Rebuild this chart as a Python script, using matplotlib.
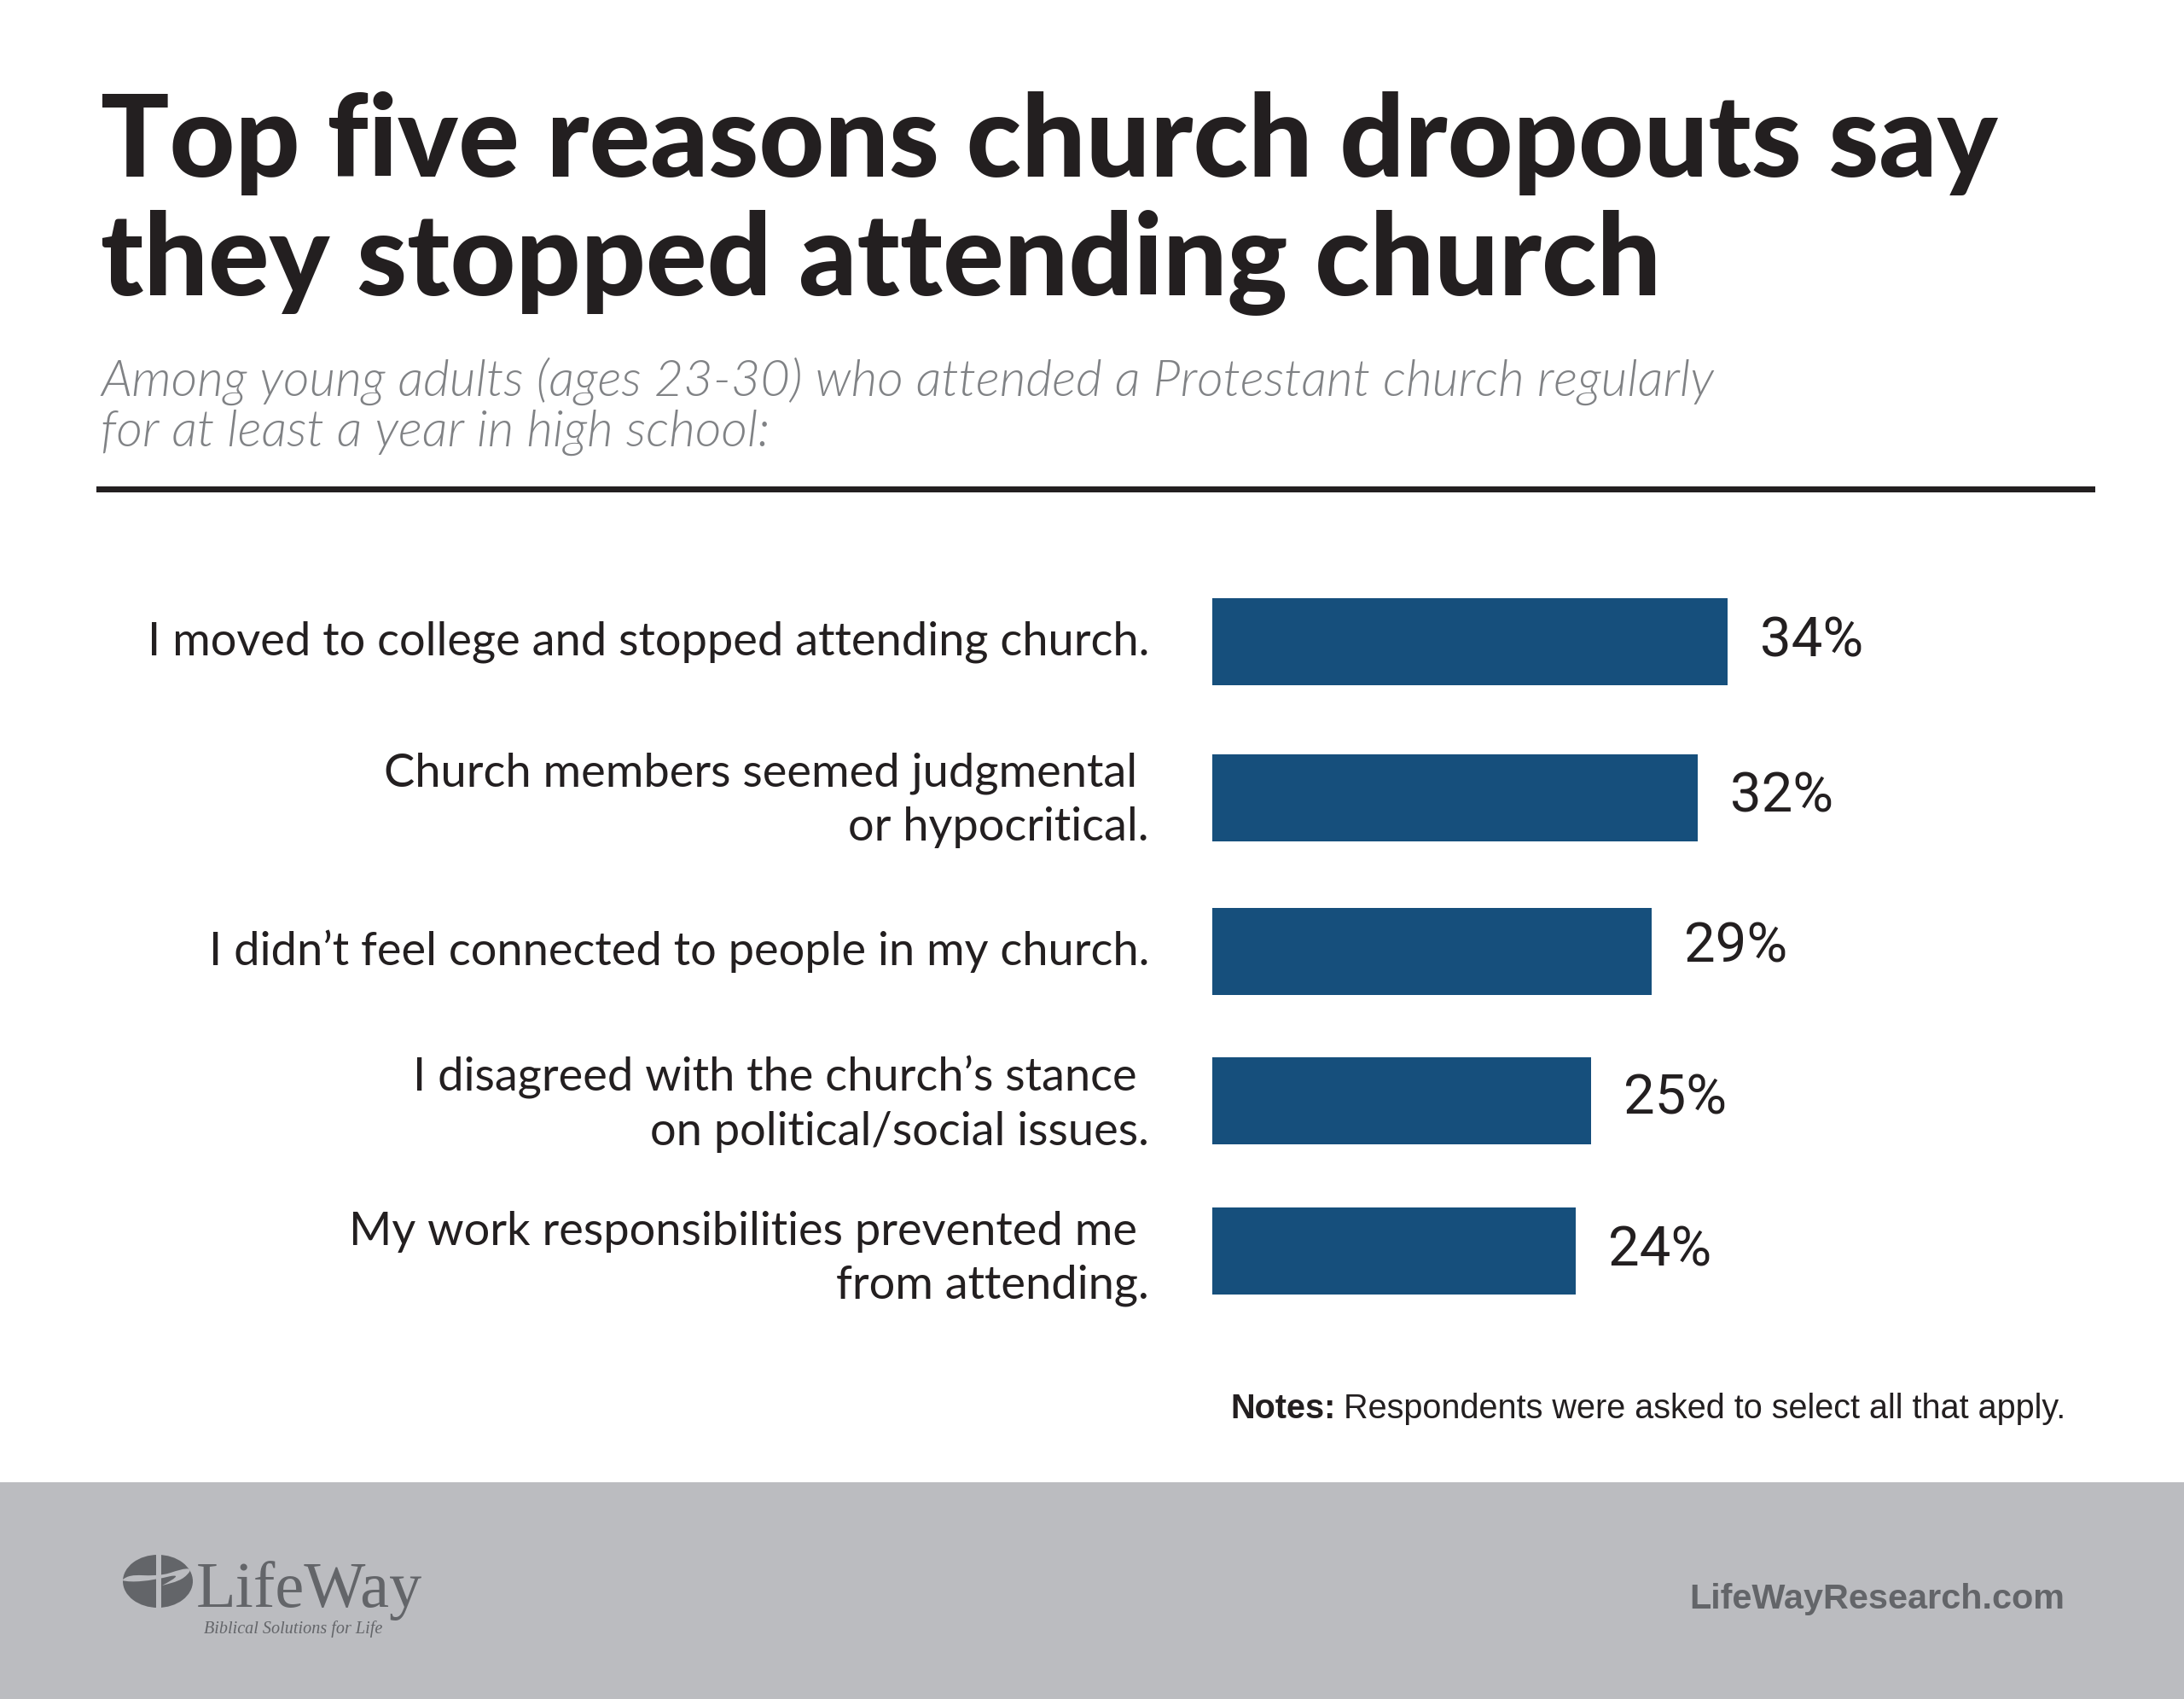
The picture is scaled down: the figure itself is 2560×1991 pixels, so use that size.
import matplotlib
matplotlib.use('Agg')
import matplotlib.pyplot as plt
from matplotlib.patches import Ellipse, Rectangle, PathPatch
from matplotlib.path import Path

# --- Data ---
title_lines = ['Top five reasons church dropouts say', 'they stopped attending church']
subtitle_lines = ['Among young adults (ages 23-30) who attended a Protestant church regularly',
                  'for at least a year in high school:']
reasons = ['I moved to college and stopped attending church.',
           'Church members seemed judgmental \nor hypocritical.',
           'I didn\u2019t feel connected to people in my church.',
           'I disagreed with the church\u2019s stance \non political/social issues.',
           'My work responsibilities prevented me \nfrom attending.']
values = [34, 32, 29, 25, 24]
notes_bold = 'Notes:'
notes_text = 'Respondents were asked to select all that apply.'
site = 'LifeWayResearch.com'

# --- Layout (pixels) ---
W, H = 2560, 1991
PX_PER_PCT = 17.77
BAR_X0 = 1421
bar_centers = [752, 934.5, 1114.5, 1289.5, 1465.5]
label_centers = [752, 938, 1115, 1294, 1475]
value_centers = [752, 934, 1109, 1287, 1465]

INK = '#231F20'
BLUE = '#164F7C'
GREY = '#BBBCC0'
LOGO = '#636569'

fig = plt.figure(figsize=(W / 100, H / 100), dpi=100, facecolor='white')

# full page axes, coordinates are pixels
page = fig.add_axes([0, 0, 1, 1])
page.set_xlim(0, W)
page.set_ylim(H, 0)
page.axis('off')

page.text(118, 207, title_lines[0], fontsize=96, family='Lato', fontweight=900, color=INK, va='baseline')
page.text(118, 346, title_lines[1], fontsize=96, family='Lato', fontweight=900, color=INK, va='baseline')

page.text(118, 464, subtitle_lines[0], fontsize=42.8, family='Lato', fontweight=300, style='italic', color='#808285', va='baseline')
page.text(118, 523, subtitle_lines[1], fontsize=42.8, family='Lato', fontweight=300, style='italic', color='#808285', va='baseline')

page.add_patch(Rectangle((113, 570), 2343, 7, color=INK, lw=0))

for reason, y in zip(reasons, label_centers):
    page.text(1347, y, reason, fontsize=39, family='Lato', color=INK, ha='right', va='center',
              multialignment='right', linespacing=1.36)

# bars
ax = fig.add_axes([BAR_X0 / W, 0, 40 * PX_PER_PCT / W, 1])
ax.patch.set_alpha(0)
ax.set_xlim(0, 40)
ax.set_ylim(H, 0)
ax.axis('off')
ax.barh(bar_centers, values, height=102, color=BLUE, linewidth=0)
for v, y in zip(values, value_centers):
    ax.text(v + 38 / PX_PER_PCT, y, f'{v}%', fontsize=47, family='Roboto',
            color=INK, ha='left', va='center')

# notes
t = page.text(1442, 1662, notes_bold, fontsize=28.5, family='Liberation Sans', fontweight='bold', color=INK, va='baseline')
fig.canvas.draw()
end_x = page.transData.inverted().transform(t.get_window_extent().get_points())[1, 0]
page.text(end_x + 10, 1662, notes_text, fontsize=28.5, family='Liberation Sans', color=INK, va='baseline')

# footer
page.add_patch(Rectangle((0, 1737), W, H - 1737, color=GREY, lw=0))
page.text(2420, 1874, site, fontsize=29.8, family='Liberation Sans', fontweight='bold', color=LOGO, ha='right', va='center')

# logo mark
page.add_patch(Ellipse((185, 1853), 82, 62, color=LOGO, lw=0))
page.add_patch(Rectangle((183, 1818), 6, 70, color=GREY, lw=0))
swoosh = Path([(143, 1852), (155, 1840), (175, 1851), (200, 1843),
               (215, 1838), (225, 1836), (222, 1842),
               (215, 1852), (205, 1854), (190, 1858),
               (205, 1850), (212, 1845), (200, 1847),
               (175, 1853), (155, 1855), (143, 1852)],
              [Path.MOVETO, Path.CURVE4, Path.CURVE4, Path.CURVE4,
               Path.CURVE4, Path.CURVE4, Path.CURVE4,
               Path.CURVE4, Path.CURVE4, Path.CURVE4,
               Path.CURVE4, Path.CURVE4, Path.CURVE4,
               Path.CURVE4, Path.CURVE4, Path.CURVE4])
page.add_patch(PathPatch(swoosh, facecolor=GREY, lw=0))
page.text(230, 1883, 'LifeWay', fontsize=55, family='Liberation Serif', color=LOGO, va='baseline')
page.text(239, 1914, 'Biblical Solutions for Life', fontsize=14.5, family='Liberation Serif', style='italic', color=LOGO, va='baseline')

fig.savefig('out.png', dpi=100)
